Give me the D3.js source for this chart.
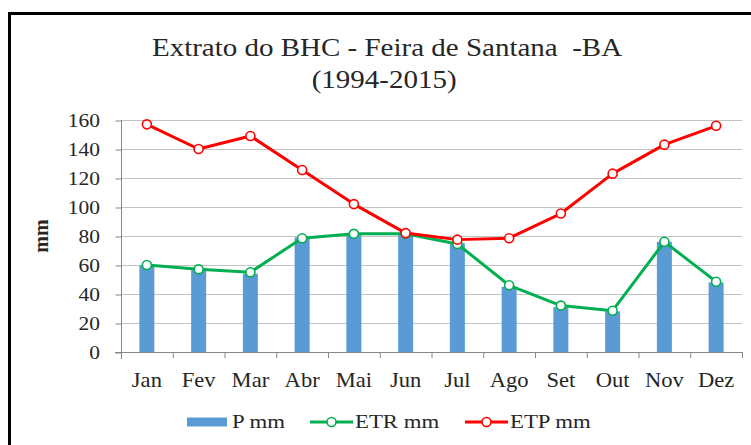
<!DOCTYPE html>
<html>

<head>
    <meta charset="UTF-8">
    <title>Extrato do BHC</title>
    <style>
        body { margin: 0; background: #fff; }
        text { font-family: "Liberation Serif", "Times New Roman", serif; fill: #262626; }
    </style>
</head>

<body>
    <script src="https://cdn.jsdelivr.net/npm/d3@7"></script>

    <svg id="svg" width="751" height="445"></svg>

    <script>
        // dados
        const meses = ["Jan", "Fev", "Mar", "Abr", "Mai", "Jun", "Jul", "Ago", "Set", "Out", "Nov", "Dez"];
        const pMm = [60, 57, 54, 79, 82, 82, 75, 45, 31, 28, 76, 48];
        const etrMm = [60, 57, 55, 78.5, 81.5, 81.5, 74.5, 46, 32, 28.5, 76, 48.5];
        const etpMm = [157, 140, 149, 125.5, 102, 82, 77.5, 78.5, 95.5, 123, 143, 156];
        const yTicks = [0, 20, 40, 60, 80, 100, 120, 140, 160];

        const fonte = "'Liberation Serif', 'Times New Roman', serif";
        const svg = d3.select("#svg");
        const stretch = "scale(1.13,1)";

        // moldura
        svg.append("rect")
            .attr("x", 9.5).attr("y", 13.5)
            .attr("width", 800).attr("height", 500)
            .attr("fill", "none").attr("stroke", "#000").attr("stroke-width", 3);

        const pLeft = 121, pRight = 742, pTop = 120, pBottom = 352;

        const x = d3.scaleBand().domain(meses).range([pLeft, pRight]);
        const y = d3.scaleLinear().domain([0, 160]).range([pBottom, pTop]);

        // titulo (texto esticado na horizontal como no original)
        const tit = svg.append("g").attr("transform", "translate(387,0) scale(1.16,1)");
        tit.append("text").attr("x", 0).attr("y", 56)
            .attr("text-anchor", "middle").style("font-size", "25px").style("font-family", fonte)
            .text("Extrato do BHC - Feira de Santana\u00a0 -BA");
        tit.append("text").attr("x", -2.5).attr("y", 88)
            .attr("text-anchor", "middle").style("font-size", "25px").style("font-family", fonte)
            .text("(1994-2015)");

        // grade
        svg.append("g").selectAll("line")
            .data(yTicks.filter(d => d > 0))
            .enter().append("line")
            .attr("x1", pLeft).attr("x2", pRight)
            .attr("y1", d => y(d) + 0.5).attr("y2", d => y(d) + 0.5)
            .attr("stroke", "#c3c3c3").attr("stroke-width", 1);

        // eixo y
        const yAxis = svg.append("g")
            .attr("transform", `translate(${pLeft + 0.5},0)`)
            .call(d3.axisLeft(y).tickValues(yTicks).tickSize(6).tickSizeOuter(0).tickPadding(13));
        yAxis.attr("font-family", null);
        yAxis.selectAll("line").attr("stroke", "#868686").attr("transform", "translate(0,0.5)");
        yAxis.select(".domain").attr("stroke", "#868686").attr("d", `M0,${pBottom + 7}V${pTop}`);
        yAxis.selectAll("text")
            .style("font-size", "19px").style("font-family", fonte).attr("fill", "#262626")
            .attr("transform", stretch);

        // barras P
        const barW = 15;
        svg.append("g").selectAll("rect")
            .data(pMm)
            .enter().append("rect")
            .attr("x", (d, i) => x(meses[i]) + x.bandwidth() / 2 - barW / 2)
            .attr("y", d => y(d))
            .attr("width", barW)
            .attr("height", d => pBottom - y(d))
            .attr("fill", "#5b9bd5");

        // eixo x
        const xAxis = svg.append("g")
            .attr("transform", `translate(0,${pBottom + 0.5})`)
            .call(d3.axisBottom(x).tickSize(0).tickPadding(20));
        xAxis.attr("font-family", null);
        xAxis.select(".domain").attr("stroke", "#868686").attr("d", `M${pLeft - 6},0H${pRight}`);
        xAxis.selectAll("text")
            .style("font-size", "20px").style("font-family", fonte).attr("fill", "#262626")
            .attr("transform", stretch);
        // marcas entre categorias
        svg.append("g").selectAll("line")
            .data(meses.slice(1).concat(["fim"]))
            .enter().append("line")
            .attr("x1", (d, i) => (i < 11 ? x(d) : pRight) + 0.5)
            .attr("x2", (d, i) => (i < 11 ? x(d) : pRight) + 0.5)
            .attr("y1", pBottom).attr("y2", pBottom + 6)
            .attr("stroke", "#868686");

        // linhas
        const linha = d3.line()
            .x((d, i) => x(meses[i]) + x.bandwidth() / 2)
            .y(d => y(d));

        const series = [
            { nome: "ETR mm", valores: etrMm, cor: "#00b050" },
            { nome: "ETP mm", valores: etpMm, cor: "#ff0000" }
        ];

        series.forEach(s => {
            svg.append("path")
                .datum(s.valores)
                .attr("d", linha)
                .attr("fill", "none")
                .attr("stroke", s.cor)
                .attr("stroke-width", 3)
                .attr("stroke-linejoin", "round");
            svg.append("g").selectAll("circle")
                .data(s.valores)
                .enter().append("circle")
                .attr("cx", (d, i) => x(meses[i]) + x.bandwidth() / 2)
                .attr("cy", d => y(d))
                .attr("r", 4.5)
                .attr("fill", "#fff")
                .attr("stroke", s.cor)
                .attr("stroke-width", 1.6);
        });

        // titulo do eixo
        svg.append("text")
            .attr("transform", "translate(48,236) rotate(-90)")
            .attr("text-anchor", "middle")
            .style("font-size", "20px").style("font-weight", "bold").style("font-family", fonte)
            .text("mm");

        // legenda
        const ly = 422;
        const leg = svg.append("g");
        leg.append("rect").attr("x", 187).attr("y", ly - 4.5).attr("width", 40).attr("height", 9).attr("fill", "#5b9bd5");
        leg.append("g").attr("transform", "translate(232,0) scale(1.2,1)")
            .append("text").attr("x", 0).attr("y", ly + 6.5).style("font-size", "19px").style("font-family", fonte)
            .text("P mm");

        const legLinhas = [
            { s: series[0], x0: 310, tx: 355 },
            { s: series[1], x0: 465, tx: 510 }
        ];
        legLinhas.forEach(l => {
            leg.append("line").attr("x1", l.x0).attr("x2", l.x0 + 43)
                .attr("y1", ly).attr("y2", ly)
                .attr("stroke", l.s.cor).attr("stroke-width", 3);
            leg.append("circle").attr("cx", l.x0 + 21.5).attr("cy", ly).attr("r", 4.5)
                .attr("fill", "#fff").attr("stroke", l.s.cor).attr("stroke-width", 1.6);
            leg.append("g").attr("transform", `translate(${l.tx},0) scale(1.2,1)`)
                .append("text").attr("x", 0).attr("y", ly + 6.5).style("font-size", "19px").style("font-family", fonte)
                .text(l.s.nome);
        });
    </script>

</body>

</html>
